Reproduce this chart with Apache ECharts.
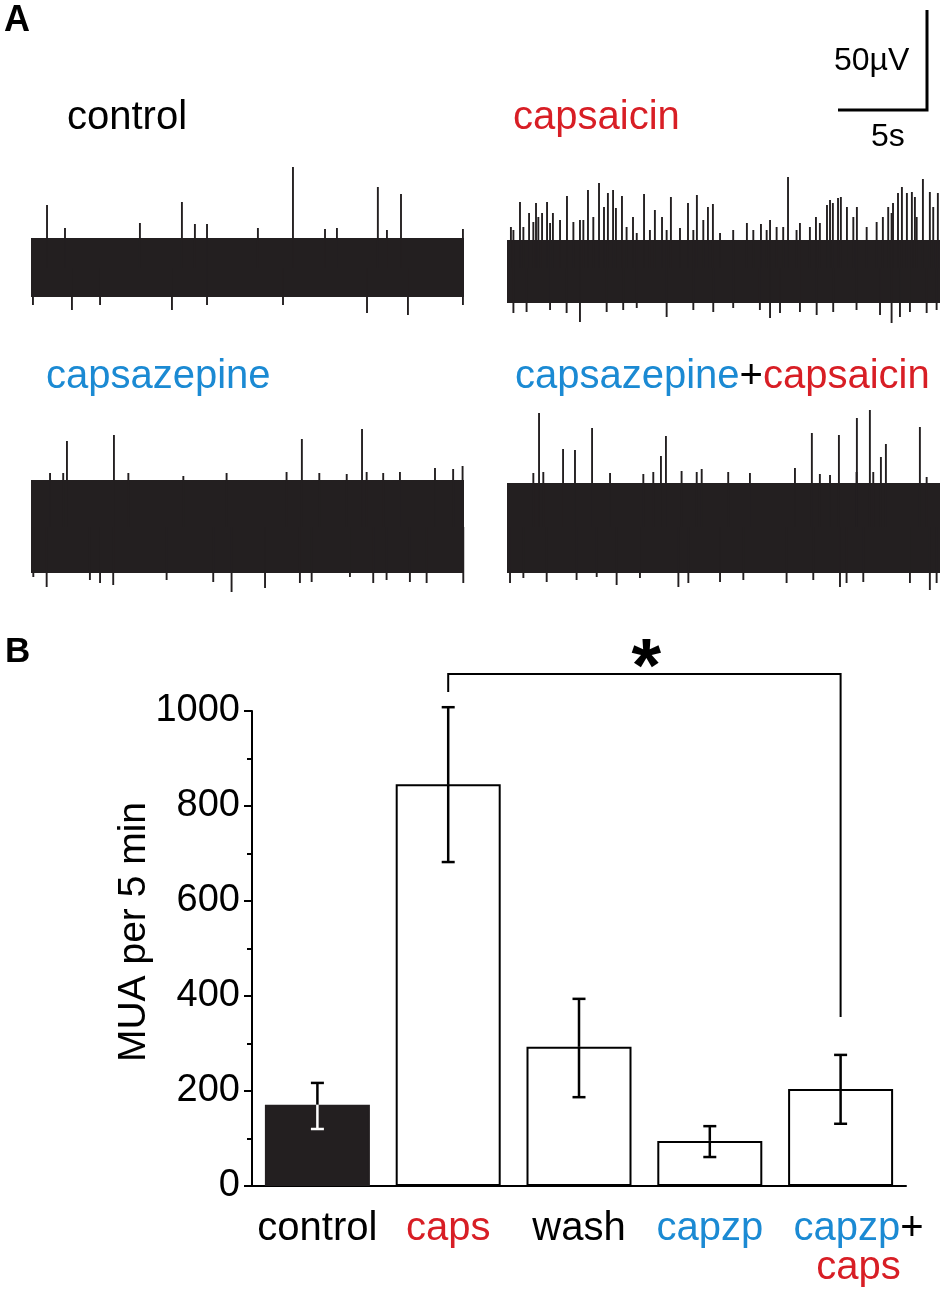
<!DOCTYPE html>
<html>
<head>
<meta charset="utf-8">
<script src="https://cdn.jsdelivr.net/npm/echarts@6/dist/echarts.min.js"></script>
<style>html,body{margin:0;padding:0;background:#fff}#chart{width:951px;height:1300px}</style>
</head>
<body>
<div id="chart"></div>
<script>
// ---------- Panel A: extracellular traces (time in s, amplitude in µV) ----------
const traceDuration = 24.33;
const scaleBarTime = 5;      // s
const scaleBarVolt = 50;     // µV

const controlCore = [-14.5, 15];
const controlUp = [[0.90,31.5],[6.12,22.5],[8.48,33],[12.75,20],[14.72,50.5],[19.49,40.5],[20.79,37],
  [1.91,20],[9.21,22],[9.89,22],[16.52,19.5],[17.19,20],[20.00,19],[24.27,19.5]];
const controlDown = [[0.11,-18.5],[2.30,-21],[3.88,-18.5],[7.92,-21],[9.89,-18.5],[14.16,-18.5],
  [18.88,-22.5],[21.18,-23.5],[24.27,-18.5]];

const capsaicinCore = [-17.5, 14];
const capsaicinUp = [[0.22,20.5],[0.73,33],[1.24,27.5],[1.63,32.5],[1.97,27.5],[2.25,33],[2.58,27.5],
  [3.37,36],[4.10,24],[4.55,39],[5.17,42.5],[5.45,30.5],[5.67,37.5],[5.96,39],[6.12,30],[6.46,36],
  [7.08,25.5],[7.70,37],[8.31,29],[8.71,25.5],[9.21,35.5],[10.17,32.5],[10.67,36.5],[11.29,30.5],
  [11.57,32],[13.48,22.5],[14.27,22],[14.78,24],[15.79,45.5],[16.46,22.5],[17.36,25.5],[17.98,31.5],
  [18.15,34],[18.31,32.5],[18.60,35],[18.76,35.5],[19.10,30.5],[19.66,30.5],[21.12,25.5],[21.69,32.5],
  [21.97,37.5],[22.19,40.5],[22.47,37.5],[22.75,38],[22.92,35.5],[23.37,44.5],[23.76,38],[24.21,37.5],
  [0.36,19],[0.92,20.5],[1.48,23],[1.76,25.5],[2.42,22.5],[2.98,24],[3.73,23],[4.29,24],[4.85,25.5],
  [6.72,20.5],[7.29,17.5],[8.03,19],[8.97,19],[9.72,20],[10.47,19],[11.03,24],[11.97,17.5],[12.71,19],
  [13.84,19],[14.59,19],[15.15,20.5],[15.52,20.5],[16.27,19],[17.02,20.5],[17.58,22.5],[19.46,25.5],
  [20.21,20.5],[20.77,23],[21.42,30.5],[21.61,27.5],[23.02,25.5],[23.95,30.5]];
const capsaicinDown = [[0.36,-22.5],[1.10,-22],[2.42,-21],[3.35,-22.5],[4.10,-27],[5.60,-22],[6.53,-21],
  [7.29,-20],[8.97,-24.5],[10.47,-21],[11.59,-22],[12.71,-20],[14.21,-21],[14.78,-25],[15.34,-22.5],
  [16.46,-22],[17.40,-23.5],[18.33,-22],[19.64,-21],[20.96,-23.5],[21.61,-27.5],[22.08,-24.5],
  [22.64,-22],[23.58,-22.5],[24.14,-21]];

const capsazepineCore = [-23, 23.5];
const capsazepineUp = [[2.02,43],[4.66,46],[15.22,44],[18.60,49],
  [1.07,27],[1.81,27],[5.47,27],[8.56,25.5],[10.99,27],[14.36,27.5],[16.20,27],[17.74,26.5],
  [18.86,27.5],[19.79,27],[20.73,27.5],[22.70,29.5],[23.72,29],[24.25,30.5]];
const capsazepineDown = [[0.13,-25],[0.88,-30],[3.31,-26.5],[3.88,-28],[4.62,-29],[7.62,-26.5],
  [10.24,-27.5],[11.27,-32.5],[13.15,-30.5],[15.11,-28],[15.77,-27.5],[17.92,-25],[19.23,-28],
  [19.98,-26.5],[21.29,-27.5],[22.23,-28],[24.29,-28]];

const combinedCore = [-23, 22];
const combinedUp = [[1.80,57],[3.15,39],[3.82,38.5],[4.78,49.5],[8.65,35.5],[8.93,45.5],[16.18,29.5],
  [17.13,47],[18.65,46],[19.66,54.5],[20.39,58.5],[21.01,35],[21.29,41.5],[23.20,50],
  [1.48,27],[2.04,27.5],[5.79,27],[7.66,26.5],[8.22,27.5],[9.81,28],[10.66,27.5],[10.94,29],
  [12.43,27.5],[13.65,27],[17.58,26.5],[18.15,26],[19.64,27.5],[20.58,27.5],[23.58,25]];
const combinedDown = [[0.17,-28],[0.92,-25.5],[2.23,-27.5],[3.91,-26.5],[5.04,-25],[6.16,-29],
  [7.47,-25.5],[9.63,-30],[10.19,-28],[11.97,-27.5],[13.28,-26.5],[15.71,-28],[17.21,-26.5],
  [18.71,-30],[19.08,-28],[20.02,-27.5],[22.64,-28],[23.76,-31.5],[24.14,-28]];

// ---------- Panel B: MUA per 5 min ----------
const categories = ['control', 'caps', 'wash', 'capzp', 'capzp+caps'];
const meanMUA = [171, 846, 293, 95, 204];
const errLow  = [120, 682, 187, 61, 131];
const errHigh = [217, 1008, 394, 126, 276];
const yMin = 0, yMax = 1000, yInterval = 200;
const sigFrom = 1, sigTo = 4, sigTop = 1078, sigLeftEnd = 1040, sigRightEnd = 356, sigLabel = '*';

const RED = '#d81e25', BLUE = '#1b8ad3', INK = '#231f20';
const FONT = '"Liberation Sans", Arial, Helvetica, sans-serif';

const chart = echarts.init(document.getElementById('chart'), null, {renderer: 'canvas'});

const traces = [
  {core: controlCore, up: controlUp, down: controlDown},
  {core: capsaicinCore, up: capsaicinUp, down: capsaicinDown},
  {core: capsazepineCore, up: capsazepineUp, down: capsazepineDown},
  {core: combinedCore, up: combinedUp, down: combinedDown}
];
const traceGrids = [
  {left: 31, top: 148, width: 433, height: 220},
  {left: 507, top: 148, width: 433, height: 220},
  {left: 31, top: 407, width: 433, height: 220},
  {left: 507, top: 407, width: 433, height: 220}
];

const grids = traceGrids.slice();
grids.push({left: 838, top: 10, width: 89, height: 100});           // scale bar (index 4)
grids.push({left: 252, top: 711, width: 654, height: 475});         // bar chart (index 5)

const xAxes = [], yAxes = [], series = [];
traceGrids.forEach((g, i) => {
  xAxes.push({type: 'value', gridIndex: i, min: 0, max: traceDuration, show: false});
  yAxes.push({type: 'value', gridIndex: i, min: -50, max: 60, show: false});
  const tr = traces[i];
  series.push({
    type: 'custom', xAxisIndex: i, yAxisIndex: i, silent: true,
    data: [[0, traceDuration, tr.core[0], tr.core[1]]],
    renderItem: function (params, api) {
      const a = api.coord([api.value(0), api.value(3)]);
      const b = api.coord([api.value(1), api.value(2)]);
      return {type: 'rect', shape: {x: a[0], y: a[1], width: b[0] - a[0], height: b[1] - a[1]},
        style: {fill: INK}};
    }
  });
  series.push({
    type: 'custom', xAxisIndex: i, yAxisIndex: i, silent: true,
    data: tr.up.concat(tr.down),
    renderItem: function (params, api) {
      const p0 = api.coord([api.value(0), 0]);
      const p1 = api.coord([api.value(0), api.value(1)]);
      return {type: 'line', shape: {x1: p0[0], y1: p0[1], x2: p1[0], y2: p1[1]},
        style: {stroke: INK, lineWidth: 1.9}};
    }
  });
});

// scale bar
xAxes.push({type: 'value', gridIndex: 4, min: 0, max: scaleBarTime, show: false});
yAxes.push({type: 'value', gridIndex: 4, min: 0, max: scaleBarVolt, show: false});
series.push({
  type: 'custom', xAxisIndex: 4, yAxisIndex: 4, silent: true,
  data: [[scaleBarTime, scaleBarVolt]],
  renderItem: function (params, api) {
    const o = api.coord([0, 0]);
    const c = api.coord([api.value(0), 0]);
    const t = api.coord([api.value(0), api.value(1)]);
    return {type: 'polyline', shape: {points: [o, c, t]},
      style: {stroke: '#000', lineWidth: 3, fill: null, lineJoin: 'miter'}};
  }
});

// bar chart axes
const catLabels = {
  'control': '{k|control}',
  'caps': '{r|caps}',
  'wash': '{k|wash}',
  'capzp': '{b|capzp}',
  'capzp+caps': '{b|capzp}{k|+}\n{r|caps}'
};
xAxes.push({
  type: 'category', gridIndex: 5,
  data: categories.map(c => c === 'capzp+caps' ? {value: c, textStyle: {padding: [0, 0, 0, 36]}} : c),
  axisLine: {show: true, lineStyle: {color: '#000', width: 2}},
  axisTick: {show: false},
  axisLabel: {
    interval: 0, margin: 23, fontFamily: FONT, fontSize: 40,
    formatter: v => catLabels[v],
    rich: {
      k: {color: '#000', fontSize: 40, fontFamily: FONT, lineHeight: 39},
      r: {color: RED, fontSize: 40, fontFamily: FONT, lineHeight: 39},
      b: {color: BLUE, fontSize: 40, fontFamily: FONT, lineHeight: 39}
    }
  },
  splitLine: {show: false}
});
yAxes.push({
  type: 'value', gridIndex: 5, min: yMin, max: yMax, interval: yInterval,
  axisLine: {show: true, lineStyle: {color: '#000', width: 2}},
  axisTick: {show: true, length: 8, lineStyle: {color: '#000', width: 2}},
  minorTick: {show: true, splitNumber: 2, length: 5, lineStyle: {color: '#000', width: 2}},
  splitLine: {show: false}, minorSplitLine: {show: false},
  axisLabel: {color: '#000', fontFamily: FONT, fontSize: 38, margin: 12, formatter: v => String(v)}
});

series.push({
  type: 'bar', xAxisIndex: 5, yAxisIndex: 5, barWidth: 105, silent: true,
  data: meanMUA.map((v, i) => ({value: v, itemStyle: i === 0
    ? {color: INK, borderColor: INK, borderWidth: 2}
    : {color: '#fff', borderColor: '#000', borderWidth: 2}})),
  z: 2
});

series.push({
  type: 'custom', xAxisIndex: 5, yAxisIndex: 5, silent: true, z: 5,
  data: categories.map((c, i) => [i, errLow[i], errHigh[i], meanMUA[i]]),
  renderItem: function (params, api) {
    const i = api.value(0);
    const lo = api.coord([i, api.value(1)]);
    const hi = api.coord([i, api.value(2)]);
    const mid = api.coord([i, api.value(3)]);
    const x = hi[0];
    const inner = i === 0 ? '#fff' : '#000';
    const w = 6.5, lw = 2.5;
    return {type: 'group', children: [
      {type: 'line', shape: {x1: x, y1: hi[1], x2: x, y2: mid[1]}, style: {stroke: '#000', lineWidth: lw}},
      {type: 'line', shape: {x1: x, y1: mid[1], x2: x, y2: lo[1]}, style: {stroke: inner, lineWidth: lw}},
      {type: 'line', shape: {x1: x - w, y1: hi[1], x2: x + w, y2: hi[1]}, style: {stroke: '#000', lineWidth: lw}},
      {type: 'line', shape: {x1: x - w, y1: lo[1], x2: x + w, y2: lo[1]}, style: {stroke: inner, lineWidth: lw}}
    ]};
  }
});

series.push({
  type: 'custom', xAxisIndex: 5, yAxisIndex: 5, silent: true, z: 5, clip: false,
  data: [[sigFrom, sigTo, sigTop, sigLeftEnd, sigRightEnd]],
  renderItem: function (params, api) {
    const a = api.coord([api.value(0), api.value(3)]);
    const b = api.coord([api.value(0), api.value(2)]);
    const c = api.coord([api.value(1), api.value(2)]);
    const d = api.coord([api.value(1), api.value(4)]);
    return {type: 'group', children: [
      {type: 'polyline', shape: {points: [a, b, c, d]},
        style: {stroke: '#000', lineWidth: 2, fill: null}},
      {type: 'text', x: (b[0] + c[0]) / 2 + 2, y: b[1] - 4,
        style: {text: sigLabel, font: 'bold 76px ' + FONT, fill: '#000', align: 'center', verticalAlign: 'middle'}}
    ]};
  }
});

function label(text, x, y, size, color, extra) {
  return Object.assign({type: 'text', x: x, y: y, silent: true,
    style: {text: text, font: size + 'px ' + FONT, fill: color, align: 'left', verticalAlign: 'middle'}}, extra || {});
}

const graphics = [
  label('A', 4, 21, 'bold 36', '#000'),
  label('B', 5, 652, 'bold 35', '#000'),
  label('control', 67, 118, 40, '#000'),
  label('capsaicin', 513, 118, 40, RED),
  label('capsazepine', 46, 377, 40, BLUE),
  {type: 'text', x: 515, y: 377, silent: true, style: {
    text: '{b|capsazepine}{k|+}{r|capsaicin}', align: 'left', verticalAlign: 'middle',
    font: '40px ' + FONT,
    rich: {
      b: {fill: BLUE, fontSize: 40, fontFamily: FONT},
      k: {fill: '#000', fontSize: 40, fontFamily: FONT},
      r: {fill: RED, fontSize: 40, fontFamily: FONT}
    }}},
  label('50µV', 834, 61, 32, '#000'),
  label('5s', 871, 137, 32, '#000'),
  {type: 'text', x: 134, y: 932, rotation: Math.PI / 2, silent: true,
    style: {text: 'MUA per 5 min', font: '39px ' + FONT, fill: '#000', align: 'center', verticalAlign: 'middle'}}
];

chart.setOption({
  backgroundColor: '#fff',
  animation: false,
  grid: grids,
  xAxis: xAxes,
  yAxis: yAxes,
  series: series,
  graphic: graphics
});
</script>
</body>
</html>
